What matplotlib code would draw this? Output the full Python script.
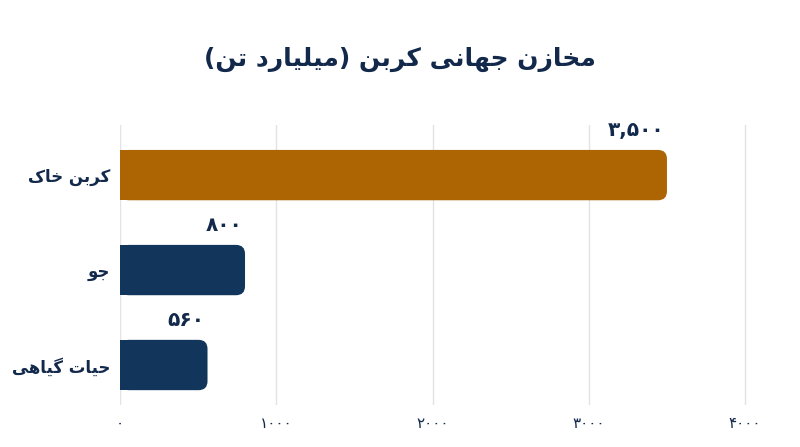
import matplotlib
matplotlib.use("Agg")
import matplotlib.pyplot as plt
from matplotlib.patches import FancyBboxPatch, Rectangle

# ---------------- data ----------------
title = "مخازن جهانی کربن (میلیارد تن)"
categories = ["کربن خاک", "جو", "حیات گیاهی"]
values = [3500, 800, 560]
bar_colors = ["#AD6503", "#12355B", "#12355B"]
xticks = [0, 1000, 2000, 3000, 4000]

NAVY = "#13294B"

# ---------------- simple Persian shaping ----------------
FORMS = {  # isolated, final, initial, medial
    "ا": ("\uFE8D", "\uFE8E", None, None),
    "ب": ("\uFE8F", "\uFE90", "\uFE91", "\uFE92"),
    "ت": ("\uFE95", "\uFE96", "\uFE97", "\uFE98"),
    "ج": ("\uFE9D", "\uFE9E", "\uFE9F", "\uFEA0"),
    "ح": ("\uFEA1", "\uFEA2", "\uFEA3", "\uFEA4"),
    "خ": ("\uFEA5", "\uFEA6", "\uFEA7", "\uFEA8"),
    "د": ("\uFEA9", "\uFEAA", None, None),
    "ر": ("\uFEAD", "\uFEAE", None, None),
    "ز": ("\uFEAF", "\uFEB0", None, None),
    "ک": ("\uFB8E", "\uFB8F", "\uFB90", "\uFB91"),
    "گ": ("\uFB92", "\uFB93", "\uFB94", "\uFB95"),
    "ل": ("\uFEDD", "\uFEDE", "\uFEDF", "\uFEE0"),
    "م": ("\uFEE1", "\uFEE2", "\uFEE3", "\uFEE4"),
    "ن": ("\uFEE5", "\uFEE6", "\uFEE7", "\uFEE8"),
    "و": ("\uFEED", "\uFEEE", None, None),
    "ه": ("\uFEE9", "\uFEEA", "\uFEEB", "\uFEEC"),
    "ی": ("\uFBFC", "\uFBFD", "\uFBFE", "\uFBFF"),
}


def shape(text):
    out = []
    n = len(text)
    for i, ch in enumerate(text):
        if ch not in FORMS:
            out.append(ch)
            continue
        f = FORMS[ch]
        prev = text[i - 1] if i > 0 else None
        nxt = text[i + 1] if i + 1 < n else None
        join_prev = prev in FORMS and FORMS[prev][2] is not None
        join_next = nxt in FORMS and f[2] is not None
        if join_prev and join_next:
            out.append(f[3])
        elif join_prev:
            out.append(f[1])
        elif join_next:
            out.append(f[2])
        else:
            out.append(f[0])
    vis = "".join(reversed(out))
    vis = vis.translate(str.maketrans("()", ")("))
    return vis


def fa_num(v, sep=True):
    s = f"{v:,}" if sep else str(v)
    return s.translate(str.maketrans("0123456789", "۰۱۲۳۴۵۶۷۸۹"))


plt.rcParams["font.family"] = ["DejaVu Sans"]

fig = plt.figure(figsize=(8, 4.47), dpi=100)
fig.patch.set_facecolor("white")
ax = fig.add_axes([0.15, 0.094, 0.797, 0.626])

ypos = list(range(len(categories)))
bars = ax.barh(ypos, values, height=0.53, color=bar_colors)
ax.set_xlim(0, 4080)
ax.set_ylim(2.421, -0.526)

# convert bars to right-rounded bars
fig.canvas.draw()
inv = ax.transData.inverted()
p0 = inv.transform((0, 0))
p1 = inv.transform((1, 1))
xpp = abs(p1[0] - p0[0])
ypp = abs(p1[1] - p0[1])
r_px = 9
for b in bars:
    x, y = b.get_x(), b.get_y()
    w, h = b.get_width(), b.get_height()
    c = b.get_facecolor()
    b.set_visible(False)
    ax.add_patch(FancyBboxPatch((x, y), w, h,
                                boxstyle=f"round,pad=0,rounding_size={r_px * xpp}",
                                mutation_aspect=ypp / xpp,
                                facecolor=c, edgecolor="none", zorder=3))
    ax.add_patch(Rectangle((x, y), w / 2, h, facecolor=c, edgecolor="none", zorder=3))
    ax.text(x + w - 3 * xpp, y - 0.1, fa_num(w), ha="right", va="bottom",
            fontsize=14.5, fontweight="bold", color=NAVY, zorder=4)

ax.set_xticks(xticks)
ax.set_xticklabels([fa_num(t, sep=False) for t in xticks], fontsize=11, color=NAVY)
ax.set_yticks(ypos)
ax.set_yticklabels([shape(c) for c in categories], fontsize=12,
                   fontweight="bold", color=NAVY)
ax.tick_params(axis="both", length=0)
ax.tick_params(axis="x", pad=8)
ax.tick_params(axis="y", pad=7)
for s in ax.spines.values():
    s.set_visible(False)
ax.grid(axis="x", color="#E3E3E3", linewidth=1)
ax.set_axisbelow(True)

fig.text(0.5, 0.868, shape(title), ha="center", va="center", fontsize=18,
         fontweight="bold", color=NAVY)

fig.savefig("out.png", dpi=100, facecolor="white")
